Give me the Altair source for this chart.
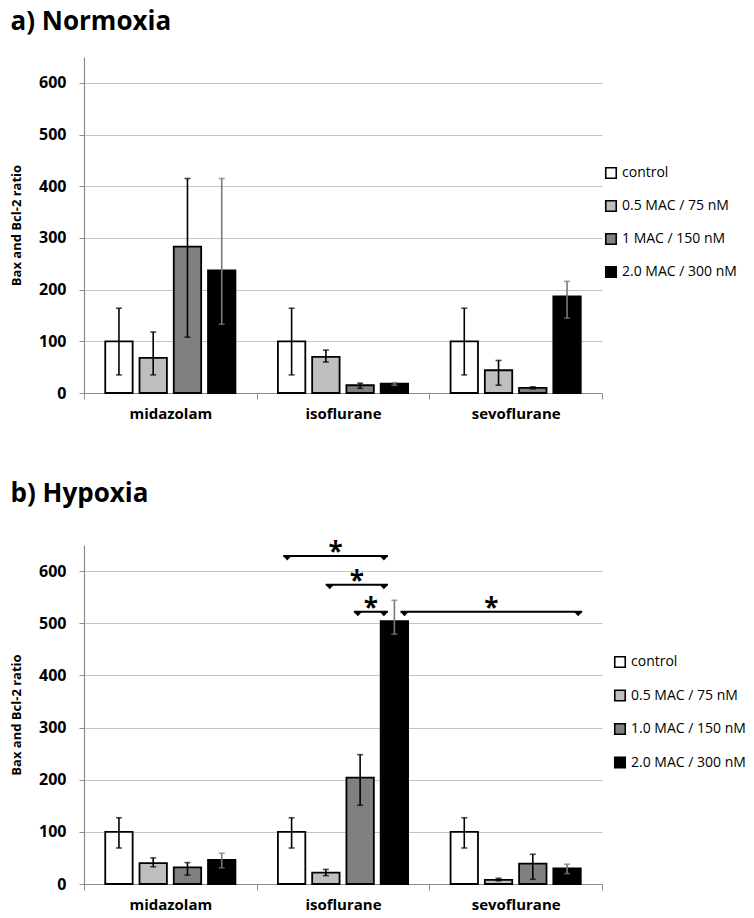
import altair as alt
import pandas as pd

categories = ["midazolam", "isoflurane", "sevoflurane"]

# a) Normoxia
norm_series = ["control", "0.5 MAC / 75 nM", "1 MAC / 150 nM", "2.0 MAC / 300 nM"]
norm_mean = [[100, 100, 100], [68, 70, 44], [283, 15, 10], [237, 18, 187]]
norm_lo = [[35, 35, 35], [35, 60, 15], [108, 9, 8], [133, 15, 145]]
norm_hi = [[164, 164, 164], [118, 83, 63], [415, 19, 12], [415, 20, 216]]

# b) Hypoxia
hyp_series = ["control", "0.5 MAC / 75 nM", "1.0 MAC / 150 nM", "2.0 MAC / 300 nM"]
hyp_mean = [[100, 100, 100], [40, 22, 8], [32, 204, 39], [46, 504, 30]]
hyp_lo = [[69, 69, 69], [33, 16, 6], [17, 151, 9], [31, 479, 20]]
hyp_hi = [[127, 127, 127], [50, 28, 11], [41, 248, 57], [59, 544, 38]]

# significance brackets in panel b (x in category units, 0..3)
br_x1 = [1.154, 1.40, 1.563, 1.833]
br_x2 = [1.76, 1.76, 1.76, 2.885]
br_y = [629, 574, 522, 522]
br_label = ["*", "*", "*", "*"]

fills = ["white", "#bfbfbf", "#808080", "black"]
FONT = "Open Sans"
AXIS_GRAY = "#8c8c8c"


def make_df(series, mean, lo, hi):
    rows = []
    for si, s in enumerate(series):
        for ci, c in enumerate(categories):
            rows.append({"category": c, "series": s, "idx": si,
                         "mean": mean[si][ci], "lo": lo[si][ci], "hi": hi[si][ci]})
    return pd.DataFrame(rows)


def panel(series, mean, lo, hi, title, height, title_offset, title_dy, legend_y, legend_x,
          row_pad, brackets=False):
    df = make_df(series, mean, lo, hi)
    x = alt.X("category:N", sort=categories, title=None,
              scale=alt.Scale(paddingInner=0, paddingOuter=0),
              axis=alt.Axis(labelAngle=0, labelFont=FONT, labelFontWeight="bold",
                            labelFontSize=15, labelColor="black", labelPadding=7,
                            tickBand="extent", tickSize=6, tickColor=AXIS_GRAY,
                            domainColor=AXIS_GRAY, domainWidth=1.2, grid=False))
    xo = alt.XOffset("series:N", sort=series,
                     scale=alt.Scale(domain=series, paddingInner=0.2, paddingOuter=0.62))
    y_scale = alt.Scale(domain=[0, 650], nice=False)
    y = alt.Y("mean:Q", scale=y_scale, title="Bax and Bcl-2 ratio",
              axis=alt.Axis(values=[0, 100, 200, 300, 400, 500, 600], labelFont=FONT,
                            labelFontWeight="bold", labelFontSize=16, labelColor="black",
                            labelPadding=13, tickSize=5, tickColor=AXIS_GRAY,
                            domainColor=AXIS_GRAY, domainWidth=1.2,
                            gridColor="#c4c4c4", gridWidth=1,
                            titleFont=FONT, titleFontWeight="bold", titleFontSize=13,
                            titleColor="black", titlePadding=15))
    color = alt.Color("series:N", sort=series,
                      scale=alt.Scale(domain=series, range=fills),
                      legend=alt.Legend(orient="none", legendX=legend_x, legendY=legend_y,
                                        title=None, symbolType="square", symbolSize=110,
                                        symbolStrokeColor="black", symbolStrokeWidth=1.6,
                                        labelFont=FONT, labelFontSize=14, labelColor="black",
                                        labelOffset=4, rowPadding=row_pad, padding=0))
    bars = alt.Chart(df).mark_bar(stroke="black", strokeWidth=1.8).encode(
        x=x, xOffset=xo, y=y, color=color)
    err_color = alt.condition("datum.idx == 3", alt.value("#7a7a7a"), alt.value("black"))
    err = alt.Chart(df).mark_rule(strokeWidth=1.6).encode(
        x=x, xOffset=xo, y=alt.Y("lo:Q", scale=y_scale), y2="hi:Q", color=err_color)
    cap_lo = alt.Chart(df).mark_tick(size=6, thickness=1.6).encode(
        x=x, xOffset=xo, y=alt.Y("lo:Q", scale=y_scale), color=err_color)
    cap_hi = alt.Chart(df).mark_tick(size=6, thickness=1.6).encode(
        x=x, xOffset=xo, y=alt.Y("hi:Q", scale=y_scale), color=err_color)
    base = alt.layer(bars, err, cap_lo, cap_hi)

    if brackets:
        bdf = pd.DataFrame({"x1": br_x1, "x2": br_x2, "y": br_y, "label": br_label})
        bdf["xm"] = (bdf["x1"] + bdf["x2"]) / 2
        xq = alt.Scale(domain=[0, 3], nice=False, zero=False)
        rule = alt.Chart(bdf).mark_rule(color="black", strokeWidth=2).encode(
            x=alt.X("x1:Q", scale=xq, axis=None), x2="x2:Q",
            y=alt.Y("y:Q", scale=y_scale))
        tri_shape = "M-1,0L1,0L0,1.1Z"
        tri1 = alt.Chart(bdf).mark_point(shape=tri_shape, filled=True, color="black",
                                         size=70, opacity=1).encode(
            x=alt.X("x1:Q", scale=xq, axis=None), y=alt.Y("y:Q", scale=y_scale),
            xOffset=alt.value(4))
        tri2 = alt.Chart(bdf).mark_point(shape=tri_shape, filled=True, color="black",
                                         size=70, opacity=1).encode(
            x=alt.X("x2:Q", scale=xq, axis=None), y=alt.Y("y:Q", scale=y_scale),
            xOffset=alt.value(-4))
        stars = alt.Chart(bdf).mark_text(font=FONT, fontWeight="bold", fontSize=26,
                                         color="black", baseline="alphabetic", dy=5).encode(
            x=alt.X("xm:Q", scale=xq, axis=None), y=alt.Y("y:Q", scale=y_scale),
            text="label:N")
        layer = alt.layer(base, alt.layer(rule, tri1, tri2, stars)).resolve_scale(x="independent")
    else:
        layer = base

    title_kw = dict(anchor="start", frame="bounds", font=FONT, fontSize=26,
                    fontWeight="bold", color="black", offset=title_offset)
    if title_dy:
        title_kw["dy"] = title_dy
    return layer.properties(width=518, height=height,
                            title=alt.TitleParams(title, **title_kw))


top = panel(norm_series, norm_mean, norm_lo, norm_hi, "a) Normoxia", 336, 22, 0, 109, 520, 15)
bottom = panel(hyp_series, hyp_mean, hyp_lo, hyp_hi, "b) Hypoxia", 339, 29.5, -3, 110, 529, 15.5,
               brackets=True)

chart = alt.vconcat(top, bottom, spacing=60).resolve_scale(
    color="independent", xOffset="independent", x="independent", y="independent"
).resolve_legend(color="independent").properties(
    padding={"left": 2, "top": 1, "right": 0, "bottom": 0}
).configure_view(stroke=None)

chart.save("out.html", embed_options={"renderer": "svg", "actions": False})
